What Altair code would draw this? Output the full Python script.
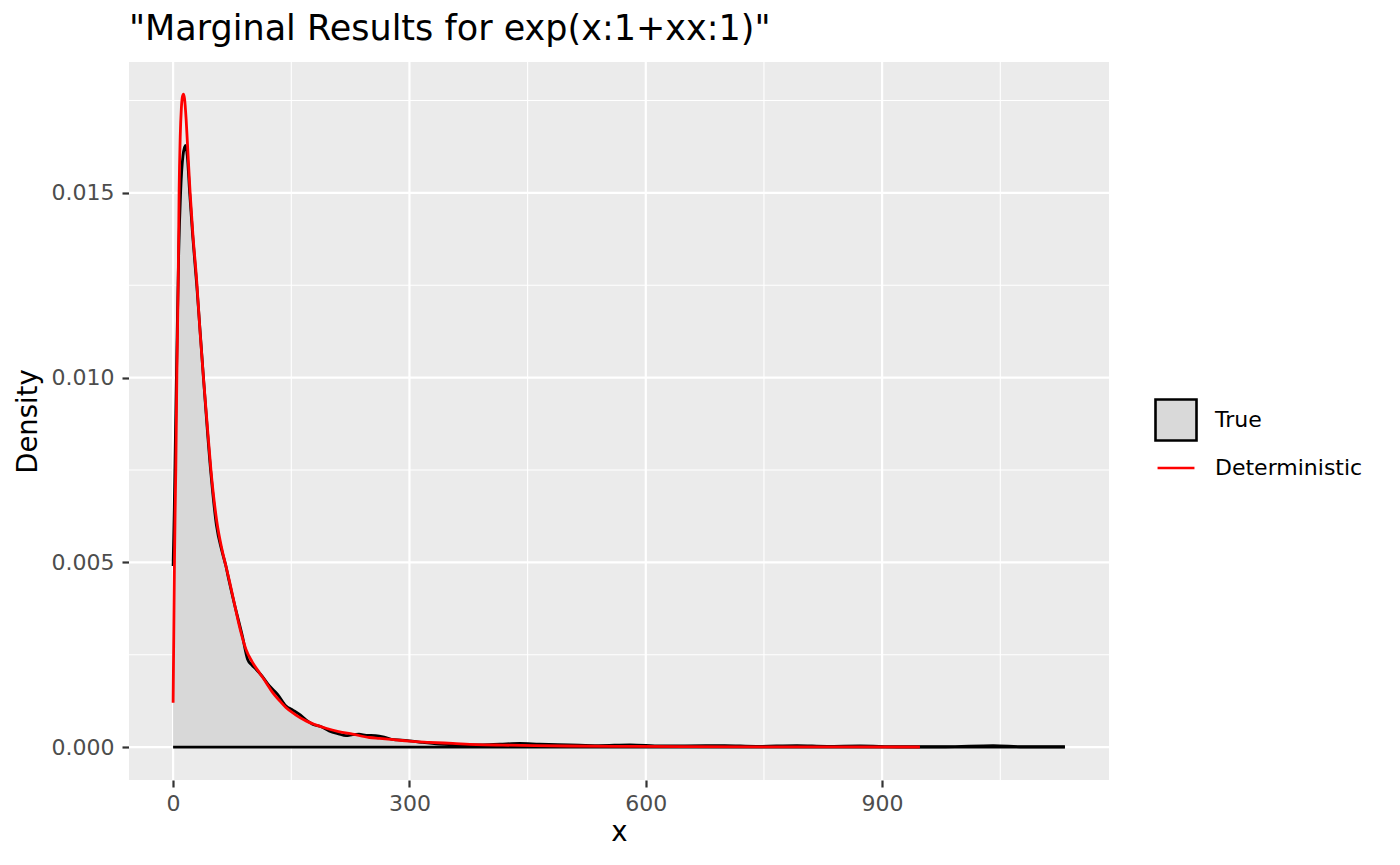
import altair as alt
import pandas as pd

# ---- data ----
true_x = [0, 1.5, 3, 5, 7, 9.5, 12.5, 15.6, 18, 21, 25, 30, 38.5, 48, 55, 62, 67, 71, 77.5, 88,
          94.5, 100, 105, 113, 122, 132.6, 143, 152, 160, 168, 177, 188, 198, 210, 219.5, 228,
          236, 245, 257, 268, 280, 290, 300, 315, 338, 360, 390, 415, 440, 465, 503, 540, 580,
          620, 680, 700, 740, 792, 830, 872, 920, 980, 1041, 1080, 1132]
true_y = [0.0049, 0.0065, 0.0085, 0.0110, 0.0133, 0.0150, 0.0160, 0.01628, 0.0160, 0.0150,
          0.0138, 0.0125, 0.0100, 0.0074, 0.0060, 0.0053, 0.0049, 0.0045, 0.0039, 0.0030,
          0.00238, 0.00222, 0.00211, 0.00192, 0.00166, 0.00143, 0.00112, 0.00100, 0.00089,
          0.00075, 0.00062, 0.00055, 0.00044, 0.00036, 0.00031, 0.00034, 0.00035, 0.00032,
          0.00031, 0.00027, 0.00020, 0.00019, 0.00017, 0.00013, 0.00008, 0.00006, 0.00006,
          0.00008, 0.00010, 0.00008, 0.00006, 0.00004, 0.00006, 0.00003, 0.00004, 0.00004,
          0.00002, 0.00004, 0.00002, 0.00003, 0.00001, 0.00001, 0.00004, 0.00001, 0.00001]

det_x = [0, 0.8, 1.65, 2.5, 3.4, 4.7, 6.4, 7.6, 9, 10.5, 12, 13.1, 14.5, 16.5, 19, 21.6, 25,
         30, 34, 38.5, 43, 48, 55.5, 62, 67, 71, 77.5, 85, 92.4, 100, 109.3, 118, 126.2, 135,
         143.2, 155, 168.7, 180, 194, 210, 228, 249, 262, 280, 300, 325, 355, 385, 418, 460,
         500, 567, 650, 750, 850, 948]
det_y = [0.0012, 0.0030, 0.0049, 0.0063, 0.0075, 0.0100, 0.0125, 0.0150, 0.0165, 0.0173,
         0.01762, 0.01767, 0.01755, 0.0170, 0.0160, 0.0150, 0.0139, 0.0126, 0.0113, 0.0100,
         0.0088, 0.0075, 0.0061, 0.00535, 0.0049, 0.00454, 0.00391, 0.0032, 0.00265, 0.00232,
         0.00202, 0.00175, 0.00148, 0.00126, 0.00107, 0.00088, 0.00071, 0.00061, 0.00051,
         0.00042, 0.00035, 0.00026, 0.000235, 0.00020, 0.00016, 0.00013, 0.00010, 0.00007,
         0.000054, 0.00004, 0.00003, 0.00002, 0.000013, 0.000008, 0.000005, 0.000003]

base_x = [0, 1132]
base_y = [0, 0]

x_major = [0, 300, 600, 900]
x_minor = [150, 450, 750, 1050]
y_major = [0.0, 0.005, 0.010, 0.015]
y_minor = [0.0025, 0.0075, 0.0125, 0.0175]
x_domain = [-56, 1188]
y_domain = [-0.00089, 0.01854]

series_names = ["True", "Deterministic"]
series_fill = ["#d9d9d9", "#ebebeb"]
series_stroke = ["black", "red"]
series_shape = ["square", "M-0.9,0L0.9,0"]

title_text = '"Marginal Results for exp(x:1+xx:1)"'
FONT = "DejaVu Sans"
PANEL = "#ebebeb"

# ---- tables ----
true_df = pd.DataFrame({"x": true_x, "y": true_y})
det_df = pd.DataFrame({"x": det_x, "y": det_y})
base_df = pd.DataFrame({"x": base_x, "y": base_y})
xminor_df = pd.DataFrame({"x": x_minor})
yminor_df = pd.DataFrame({"y": y_minor})
xmajor_df = pd.DataFrame({"x": x_major})
ymajor_df = pd.DataFrame({"y": y_major})
legend_df = pd.DataFrame({"series": series_names})


def X():
    return alt.X("x:Q", scale=alt.Scale(domain=x_domain, nice=False, zero=False),
                 axis=alt.Axis(values=x_major, title="x", format="d", grid=False))


def Y():
    return alt.Y("y:Q", scale=alt.Scale(domain=y_domain, nice=False, zero=False),
                 axis=alt.Axis(values=y_major, title="Density", format=".3f", grid=False))


panel_bg = alt.Chart(legend_df).transform_filter("datum.series == 'True'").mark_rect(
    color=PANEL
).encode(
    x=alt.value(0), x2=alt.value({"expr": "width"}),
    y=alt.value(0), y2=alt.value({"expr": "height"}),
)

minor_x = alt.Chart(xminor_df).mark_rule(color="white", strokeWidth=1.1).encode(x=X())
minor_y = alt.Chart(yminor_df).mark_rule(color="white", strokeWidth=1.1).encode(y=Y())
major_x = alt.Chart(xmajor_df).mark_rule(color="white", strokeWidth=2.2).encode(x=X())
major_y = alt.Chart(ymajor_df).mark_rule(color="white", strokeWidth=2.2).encode(y=Y())

area = alt.Chart(true_df).mark_area(color="#d8d8d8", interpolate="monotone").encode(
    x=X(), y=Y())
true_line = alt.Chart(true_df).mark_line(color="black", strokeWidth=2.8,
                                         interpolate="monotone").encode(x=X(), y=Y())
base_line = alt.Chart(base_df).mark_line(color="black", strokeWidth=2.8).encode(x=X(), y=Y())
det_line = alt.Chart(det_df).mark_line(color="red", strokeWidth=2.8,
                                       interpolate="monotone").encode(x=X(), y=Y())


def L():
    return alt.Legend(title=None, orient="none", legendX=1025, legendY=336,
                      symbolSize=1681, symbolStrokeWidth=2.6,
                      labelFontSize=22, labelFont=FONT, labelColor="black",
                      labelOffset=17, rowPadding=0, padding=0)


legend_layer = alt.Chart(legend_df).transform_filter("false").mark_point(
    filled=True, size=1681, strokeWidth=2.6, opacity=1
).encode(
    fill=alt.Fill("series:N", scale=alt.Scale(domain=series_names, range=series_fill),
                  legend=L()),
    stroke=alt.Stroke("series:N", scale=alt.Scale(domain=series_names, range=series_stroke),
                      legend=L()),
    shape=alt.Shape("series:N", scale=alt.Scale(domain=series_names, range=series_shape),
                    legend=L()),
)

chart = alt.layer(
    panel_bg, minor_x, minor_y, major_x, major_y, area, true_line, base_line, det_line,
    legend_layer
).properties(
    width=980, height=718,
    autosize=alt.AutoSizeParams(type="none"),
    padding={"left": 121, "top": 54, "right": 283, "bottom": 77},
    title=alt.TitleParams(text=title_text, anchor="start", frame="group", fontSize=35,
                          font=FONT, fontWeight="normal", color="black",
                          baseline="bottom", offset=10, dy=31),
).configure_view(
    strokeWidth=0
).configure_axis(
    labelFont=FONT, labelFontSize=22, labelColor="#4d4d4d",
    titleFont=FONT, titleFontSize=27.5, titleColor="black", titleFontWeight="normal",
    tickColor="#333333", tickWidth=2.2, tickSize=7, domain=False,
).configure_axisX(
    labelPadding=6, titlePadding=4
).configure_axisY(
    labelPadding=8, titlePadding=9
)

chart.save("out.html", embed_options={"renderer": "svg", "actions": False})
